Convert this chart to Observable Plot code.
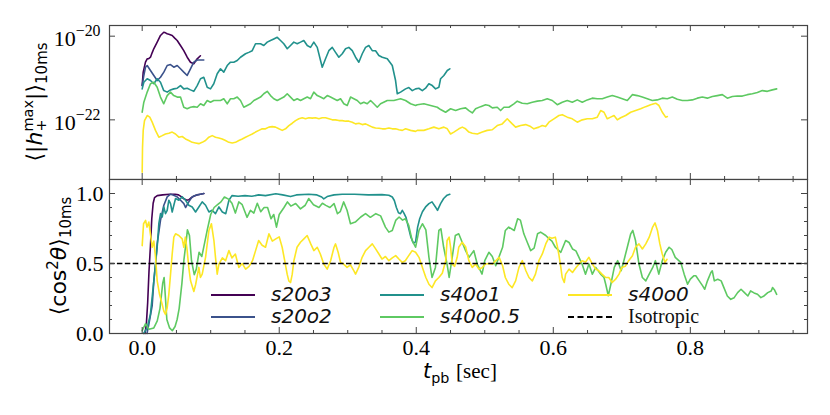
<!DOCTYPE html>
<html><head><meta charset="utf-8">
<script src="https://cdn.jsdelivr.net/npm/d3@7"></script>
<script src="https://cdn.jsdelivr.net/npm/@observablehq/plot@0.6"></script>
<style>
body{margin:0;background:#fff;}
#wrap{position:relative;width:830px;height:415px;overflow:hidden;background:#fff;}
#top,#bot{position:absolute;left:0;}
#top{top:0px;} #bot{top:178px;}
.lab{position:absolute;white-space:nowrap;font-family:"DejaVu Sans";font-size:22px;color:#000;line-height:1;}
.rot{transform:translate(-50%,-50%) rotate(-90deg);}
.ss{display:inline-block;vertical-align:-0.3em;font-size:0.66em;line-height:0.9;text-align:left;}
.ss span{display:block;}
.sub{font-size:0.68em;vertical-align:-0.35em;}
.sup{font-size:0.68em;vertical-align:0.55em;}
.sw{position:absolute;height:0;width:44px;}
.lt{position:absolute;font-family:"DejaVu Sans";font-style:italic;font-size:20px;line-height:1;white-space:nowrap;color:#111;}
.ls{position:absolute;font-family:"Liberation Serif";font-size:20px;line-height:1;white-space:nowrap;color:#111;}
</style>
</head><body>
<div id="wrap">
  <div id="top"></div>
  <div id="bot"></div>
  <div class="lab rot" style="left:36px;top:102px;">⟨|<i>h</i><span class="ss"><span>max</span><span>+</span></span>|⟩<span class="sub">10ms</span></div>
  <div class="lab rot" style="left:60px;top:256px;">⟨cos<span class="sup">2</span><i>θ</i>⟩<span class="sub">10ms</span></div>
  <div class="lab" style="left:460px;top:364px;font-size:21px;line-height:0.72;transform:translateX(-50%);"><i>t</i><span class="sub">pb</span> <span style="font-family:'Liberation Serif'">[sec]</span></div>
  <div id="legend"></div>
</div>
<script>
// ---------- data ----------
const seriesNames = ["s20o3", "s20o2", "s40o1", "s40o0.5", "s40o0"];
const seriesColors = ["#440154", "#3b528b", "#21918c", "#5ec962", "#fde725"];
const isotropicValue = [0.5];
const xDomain = [-0.0477, 0.971];
const hDomain = [3.75e-24, 1.8e-20];
const cDomain = [0, 1.1];
const xMajor = [0, 0.2, 0.4, 0.6, 0.8];
const xMinor = [0.05,0.1,0.15,0.25,0.3,0.35,0.45,0.5,0.55,0.65,0.7,0.75,0.85,0.9,0.95];
const hMajor = [1e-20, 1e-22];
const cMajor = [0, 0.5, 1.0];
const cMinor = [0.1,0.2,0.3,0.4,0.6,0.7,0.8,0.9];

// top panel: <|h+max|>_10ms  [t (s), value]
const h_s20o3 = [[0,6.6e-22],[0.0015,1.38e-21],[0.0048,2.39e-21],[0.0073,2.88e-21],[0.0095,2.9e-21],[0.0121,3.14e-21],[0.0145,4.0e-21],[0.0169,5.0e-21],[0.0219,7.2e-21],[0.0267,1.04e-20],[0.0315,1.24e-20],[0.034,1.2e-20],[0.0365,1.14e-20],[0.040,1.1e-20],[0.0438,1.04e-20],[0.0475,9.0e-21],[0.0511,7.9e-21],[0.0559,6.0e-21],[0.0607,4.5e-21],[0.0657,3.14e-21],[0.0705,2.39e-21],[0.0753,2.19e-21],[0.0803,2.88e-21],[0.085,3.4e-21]];
const h_s20o2 = [[0,6.6e-22],[0.0024,1.15e-21],[0.0048,1.81e-21],[0.0073,1.99e-21],[0.0121,1.51e-21],[0.017,1.15e-21],[0.0219,8.7e-22],[0.0267,1.04e-21],[0.0316,1.38e-21],[0.0365,1.99e-21],[0.0413,2.1e-21],[0.0462,1.81e-21],[0.0511,1.99e-21],[0.0559,1.66e-21],[0.0607,1.38e-21],[0.0657,1.15e-21],[0.0705,1.66e-21],[0.0753,2.39e-21],[0.0803,2.7e-21],[0.0851,2.7e-21],[0.0899,2.7e-21]];
const h_s40o1 = [[0,5.5e-22],[0.0024,7.9e-22],[0.0073,9.6e-22],[0.0121,8.7e-22],[0.017,7.3e-22],[0.0219,9.6e-22],[0.0267,7.9e-22],[0.0315,5.0e-22],[0.0365,4.6e-22],[0.0413,5.2e-22],[0.0461,5.5e-22],[0.0511,5.7e-22],[0.0559,6.6e-22],[0.0607,5.5e-22],[0.0657,5.7e-22],[0.0705,5.2e-22],[0.0753,4.8e-22],[0.0803,6.6e-22],[0.0851,9.6e-22],[0.0899,1.04e-21],[0.0949,6.0e-22],[0.0997,5.5e-22],[0.1045,7.3e-22],[0.1095,1.26e-21],[0.1143,1.66e-21],[0.1191,1.38e-21],[0.1241,1.99e-21],[0.1289,2.39e-21],[0.1337,2.39e-21],[0.1387,2.62e-21],[0.1435,3.14e-21],[0.1508,3.8e-21],[0.1556,4.1e-21],[0.1606,4.5e-21],[0.1654,6.6e-21],[0.1727,6.6e-21],[0.1775,6.0e-21],[0.1825,7.2e-21],[0.1873,7.9e-21],[0.1921,8.6e-21],[0.1971,9.4e-21],[0.2019,7.9e-21],[0.2067,6.6e-21],[0.2117,5.0e-21],[0.2165,6.0e-21],[0.2213,7.2e-21],[0.2263,6.6e-21],[0.2311,7.2e-21],[0.2359,7.9e-21],[0.2409,6.0e-21],[0.2457,5.4e-21],[0.2505,7.2e-21],[0.2555,5.4e-21],[0.2603,2.62e-21],[0.2628,1.81e-21],[0.2676,2.88e-21],[0.2724,4.5e-21],[0.2774,5.4e-21],[0.2822,4.1e-21],[0.287,3.14e-21],[0.292,3.8e-21],[0.2968,5.0e-21],[0.3016,5.4e-21],[0.3066,4.5e-21],[0.3114,3.14e-21],[0.3162,2.39e-21],[0.3212,3.8e-21],[0.326,5.4e-21],[0.3308,6.0e-21],[0.3358,4.5e-21],[0.3406,4.5e-21],[0.3454,3.45e-21],[0.3504,3.14e-21],[0.3577,2.88e-21],[0.365,1.99e-21],[0.3698,8.7e-22],[0.3723,4.2e-22],[0.3771,4.6e-22],[0.3844,5.5e-22],[0.3892,5.9e-22],[0.3942,5.0e-22],[0.399,5.5e-22],[0.4038,5.7e-22],[0.4088,5.0e-22],[0.4136,5.7e-22],[0.4184,7.3e-22],[0.4234,6.6e-22],[0.4282,5.5e-22],[0.433,6.0e-22],[0.4355,9.6e-22],[0.4403,1.15e-21],[0.4453,1.51e-21],[0.449,1.66e-21]];
const h_s40o05 = [[0,1.52e-22],[0.0024,2.64e-22],[0.0073,4.6e-22],[0.0121,7.3e-22],[0.017,7.9e-22],[0.0219,6.0e-22],[0.0267,3.5e-22],[0.0315,2.42e-22],[0.0365,3.8e-22],[0.0413,4.6e-22],[0.0461,3.8e-22],[0.0511,3.5e-22],[0.0559,3.5e-22],[0.0607,2.0e-22],[0.0657,1.84e-22],[0.0705,2.0e-22],[0.0753,2.07e-22],[0.0803,2.0e-22],[0.0851,2.42e-22],[0.0899,2.2e-22],[0.0949,2.9e-22],[0.0997,2.64e-22],[0.1045,2.9e-22],[0.1095,2.9e-22],[0.1143,2.9e-22],[0.1191,3.2e-22],[0.1241,2.42e-22],[0.1289,3.2e-22],[0.1337,3.2e-22],[0.1387,3.5e-22],[0.1435,2.9e-22],[0.1483,2.0e-22],[0.1533,2.2e-22],[0.1581,2.42e-22],[0.163,2.9e-22],[0.168,3.2e-22],[0.1727,3.5e-22],[0.1775,4.2e-22],[0.1825,4.8e-22],[0.1873,3.8e-22],[0.1921,3.2e-22],[0.1971,2.9e-22],[0.2019,3.2e-22],[0.2067,3.5e-22],[0.2117,4.2e-22],[0.2165,3.5e-22],[0.2213,2.9e-22],[0.2263,3.2e-22],[0.2311,2.9e-22],[0.2359,3.2e-22],[0.2409,3.5e-22],[0.2457,3.2e-22],[0.2505,4.6e-22],[0.2555,3.8e-22],[0.2603,3.5e-22],[0.2651,3.2e-22],[0.2701,3.8e-22],[0.2749,3.5e-22],[0.2797,3.2e-22],[0.2847,2.9e-22],[0.2895,3.2e-22],[0.2943,2.42e-22],[0.2993,2.2e-22],[0.3041,3.5e-22],[0.3089,3.2e-22],[0.3139,2.9e-22],[0.3187,2.42e-22],[0.3235,2.64e-22],[0.3285,2.42e-22],[0.3333,2.9e-22],[0.3381,2.42e-22],[0.3431,2.0e-22],[0.3479,2.42e-22],[0.3577,2.9e-22],[0.3673,2.9e-22],[0.3771,3.2e-22],[0.3844,2.9e-22],[0.3917,2.42e-22],[0.399,2.2e-22],[0.4015,2.3e-22],[0.4111,2.42e-22],[0.4209,2.2e-22],[0.4307,2.0e-22],[0.4355,1.76e-22],[0.4428,1.52e-22],[0.4501,1.84e-22],[0.4574,1.67e-22],[0.4647,1.84e-22],[0.472,1.93e-22],[0.4768,1.67e-22],[0.4818,1.46e-22],[0.4866,1.84e-22],[0.4939,2.07e-22],[0.5012,2.3e-22],[0.506,2.2e-22],[0.511,1.93e-22],[0.5182,2.0e-22],[0.5231,1.67e-22],[0.5279,2.0e-22],[0.5352,2.0e-22],[0.5425,2.42e-22],[0.5474,2.8e-22],[0.5547,2.5e-22],[0.562,2.42e-22],[0.5693,2.64e-22],[0.5766,2.8e-22],[0.5839,2.9e-22],[0.5912,3.2e-22],[0.5985,2.9e-22],[0.6058,2.3e-22],[0.6131,2.64e-22],[0.6204,2.9e-22],[0.6277,2.64e-22],[0.635,3.0e-22],[0.6423,2.64e-22],[0.6496,3.0e-22],[0.6569,3.3e-22],[0.6642,3.2e-22],[0.6715,3.2e-22],[0.6788,3.5e-22],[0.6861,3.8e-22],[0.6934,3.5e-22],[0.7007,3.2e-22],[0.708,2.9e-22],[0.7153,4.0e-22],[0.7226,3.8e-22],[0.7299,3.5e-22],[0.7372,3.2e-22],[0.7445,2.9e-22],[0.7518,3.0e-22],[0.7591,3.3e-22],[0.7664,3.2e-22],[0.7737,3.5e-22],[0.781,3.1e-22],[0.7883,2.9e-22],[0.7956,2.9e-22],[0.8029,3.0e-22],[0.8102,3.3e-22],[0.8175,3.5e-22],[0.8248,3.3e-22],[0.8321,3.6e-22],[0.8394,3.8e-22],[0.8467,4.0e-22],[0.854,3.3e-22],[0.8613,3.6e-22],[0.8686,3.7e-22],[0.8759,3.7e-22],[0.8832,4.0e-22],[0.8905,4.2e-22],[0.8978,4.5e-22],[0.9051,5.0e-22],[0.9124,4.8e-22],[0.9197,5.2e-22],[0.926,5.5e-22]];
const h_s40o0 = [[0,5.6e-24],[0.0005,2.2e-23],[0.0015,5.6e-23],[0.0034,9.6e-23],[0.0073,1.27e-22],[0.0111,1.16e-22],[0.0146,8.8e-23],[0.0194,5.6e-23],[0.0243,3.85e-23],[0.0292,4.2e-23],[0.034,4.6e-23],[0.0389,4.8e-23],[0.0438,5.1e-23],[0.0486,4.6e-23],[0.0535,3.85e-23],[0.0584,4.0e-23],[0.0632,3.5e-23],[0.068,3.2e-23],[0.073,2.9e-23],[0.0778,2.8e-23],[0.0827,2.7e-23],[0.0876,2.9e-23],[0.0924,3.2e-23],[0.0973,3.85e-23],[0.1022,4.2e-23],[0.107,3.85e-23],[0.1119,3.7e-23],[0.1168,3.5e-23],[0.1216,3.2e-23],[0.1265,2.9e-23],[0.1314,2.8e-23],[0.1362,2.9e-23],[0.1411,3.2e-23],[0.146,3.5e-23],[0.1508,3.85e-23],[0.1557,4.2e-23],[0.1606,4.6e-23],[0.1654,5.1e-23],[0.1703,5.6e-23],[0.1752,6.1e-23],[0.18,6.1e-23],[0.1849,6.7e-23],[0.1898,6.9e-23],[0.1946,6.7e-23],[0.1995,6.1e-23],[0.2044,5.6e-23],[0.2092,6.1e-23],[0.2141,7.3e-23],[0.219,8.3e-23],[0.2238,9.6e-23],[0.2287,1.06e-22],[0.2336,1.12e-22],[0.2384,1.06e-22],[0.2433,1.12e-22],[0.2482,1.1e-22],[0.253,1.12e-22],[0.2579,1.06e-22],[0.2628,1.12e-22],[0.2676,1.12e-22],[0.2725,1.06e-22],[0.2774,1.0e-22],[0.2822,1.0e-22],[0.2871,9.6e-23],[0.292,9.6e-23],[0.2968,9.3e-23],[0.3017,9.3e-23],[0.3066,8.8e-23],[0.3114,8.0e-23],[0.3163,8.3e-23],[0.3212,7.7e-23],[0.326,8.0e-23],[0.3309,7.3e-23],[0.3358,6.7e-23],[0.3406,6.4e-23],[0.3455,6.3e-23],[0.3504,6.1e-23],[0.3552,6.1e-23],[0.3601,6.4e-23],[0.365,6.1e-23],[0.3698,6.1e-23],[0.3747,5.8e-23],[0.3796,5.6e-23],[0.3844,6.1e-23],[0.3917,5.6e-23],[0.399,5.3e-23],[0.4015,5.6e-23],[0.4111,5.6e-23],[0.4184,6.1e-23],[0.4257,6.7e-23],[0.433,6.1e-23],[0.4403,6.7e-23],[0.4453,6.1e-23],[0.4501,4.6e-23],[0.4549,5.1e-23],[0.4622,6.1e-23],[0.4672,6.7e-23],[0.472,6.1e-23],[0.4768,5.1e-23],[0.4818,4.8e-23],[0.4891,4.6e-23],[0.4964,5.1e-23],[0.5036,5.6e-23],[0.5109,5.8e-23],[0.5182,7.3e-23],[0.5255,8.0e-23],[0.5328,1.06e-22],[0.5401,8.0e-23],[0.545,6.7e-23],[0.5523,7.3e-23],[0.5596,7.7e-23],[0.5669,6.9e-23],[0.5717,6.1e-23],[0.579,6.7e-23],[0.5839,7.3e-23],[0.5888,6.9e-23],[0.5936,8.8e-23],[0.6009,1.06e-22],[0.6082,1.27e-22],[0.6131,1.33e-22],[0.6204,1.16e-22],[0.6277,1.06e-22],[0.635,8.8e-23],[0.6423,1.0e-22],[0.6496,1.06e-22],[0.6569,1.06e-22],[0.6642,1.16e-22],[0.6691,1.67e-22],[0.674,1.52e-22],[0.6788,1.06e-22],[0.6837,1.16e-22],[0.6886,1.27e-22],[0.6934,1.0e-22],[0.6983,1.12e-22],[0.7056,1.27e-22],[0.7129,1.52e-22],[0.7202,1.67e-22],[0.7275,1.84e-22],[0.7348,2.07e-22],[0.7421,2.3e-22],[0.7494,2.5e-22],[0.7542,2.2e-22],[0.7591,1.52e-22],[0.764,1.16e-22],[0.7664,1.2e-22]];

// bottom panel: <cos^2 theta>_10ms  [t (s), value]
const c_s20o3 = [[0.004,0],[0.006,0.06],[0.008,0.22],[0.010,0.45],[0.012,0.62],[0.014,0.82],[0.016,0.93],[0.018,0.97],[0.022,0.985],[0.03,0.99],[0.04,0.995],[0.048,0.995],[0.053,0.99],[0.057,0.978],[0.061,0.962],[0.065,0.952],[0.068,0.955],[0.071,0.968],[0.075,0.98],[0.08,0.99],[0.085,0.995],[0.09,1.0]];
const c_s20o2 = [[0.007,0],[0.0097,0.065],[0.0146,0.2],[0.017,0.376],[0.0195,0.5],[0.0219,0.64],[0.0267,0.808],[0.0316,0.916],[0.0365,0.976],[0.0414,0.995],[0.046,0.988],[0.051,0.976],[0.056,0.952],[0.0608,0.928],[0.0633,0.9],[0.068,0.94],[0.073,0.976],[0.078,0.988],[0.085,0.995],[0.09,1.0]];
const c_s40o1 = [[0.002,0],[0.0073,0.04],[0.012,0.136],[0.017,0.376],[0.0219,0.616],[0.0243,0.784],[0.0268,0.856],[0.0292,0.832],[0.0316,0.904],[0.034,0.856],[0.0365,0.88],[0.0389,0.952],[0.0414,0.928],[0.0438,0.868],[0.0462,0.916],[0.0487,0.964],[0.0535,0.952],[0.0584,0.976],[0.0633,0.952],[0.068,0.916],[0.073,0.904],[0.0779,0.868],[0.0827,0.904],[0.0876,0.94],[0.0925,0.916],[0.0974,0.868],[0.102,0.88],[0.107,0.856],[0.112,0.904],[0.117,0.868],[0.122,0.856],[0.1266,0.952],[0.131,0.985],[0.14,0.98],[0.15,0.985],[0.16,0.98],[0.17,0.99],[0.18,0.985],[0.195,0.998],[0.205,0.99],[0.2165,0.978],[0.225,0.99],[0.243,0.995],[0.255,0.99],[0.262,0.975],[0.265,0.962],[0.27,0.978],[0.28,0.99],[0.292,0.995],[0.31,0.995],[0.33,0.99],[0.35,0.992],[0.36,0.988],[0.365,0.975],[0.368,0.95],[0.371,0.9],[0.374,0.862],[0.377,0.856],[0.3796,0.88],[0.382,0.86],[0.385,0.83],[0.389,0.75],[0.392,0.69],[0.396,0.645],[0.399,0.655],[0.402,0.76],[0.405,0.82],[0.409,0.87],[0.4136,0.904],[0.4185,0.928],[0.423,0.94],[0.428,0.904],[0.431,0.88],[0.4355,0.928],[0.44,0.964],[0.445,0.988],[0.449,0.995]];
const c_s40o05 = [[0,0.02],[0.005,0.07],[0.01,0.03],[0.017,0.04],[0.022,0.09],[0.026,0.18],[0.03,0.36],[0.032,0.40],[0.034,0.25],[0.036,0.10],[0.04,0.04],[0.044,0.02],[0.048,0.05],[0.051,0.1],[0.054,0.18],[0.058,0.36],[0.061,0.53],[0.064,0.65],[0.066,0.74],[0.069,0.70],[0.072,0.52],[0.076,0.42],[0.079,0.46],[0.083,0.58],[0.087,0.55],[0.09,0.62],[0.095,0.74],[0.1,0.85],[0.105,0.9],[0.11,0.92],[0.115,0.94],[0.12,0.975],[0.126,0.96],[0.131,0.93],[0.136,0.86],[0.141,0.94],[0.146,0.92],[0.153,0.83],[0.158,0.88],[0.163,0.86],[0.168,0.93],[0.173,0.87],[0.178,0.90],[0.183,0.90],[0.188,0.82],[0.192,0.85],[0.196,0.76],[0.2,0.85],[0.207,0.90],[0.212,0.94],[0.217,0.91],[0.224,0.928],[0.231,0.89],[0.238,0.916],[0.243,0.964],[0.25,0.92],[0.258,0.90],[0.263,0.93],[0.268,0.915],[0.274,0.9],[0.28,0.928],[0.285,0.856],[0.289,0.87],[0.294,0.94],[0.299,0.88],[0.304,0.784],[0.311,0.796],[0.319,0.832],[0.326,0.856],[0.333,0.83],[0.341,0.856],[0.348,0.84],[0.355,0.76],[0.36,0.724],[0.365,0.735],[0.37,0.808],[0.375,0.832],[0.38,0.81],[0.384,0.82],[0.389,0.772],[0.394,0.664],[0.399,0.616],[0.404,0.736],[0.409,0.784],[0.414,0.74],[0.4185,0.544],[0.423,0.4],[0.428,0.472],[0.433,0.736],[0.436,0.748],[0.44,0.616],[0.445,0.496],[0.448,0.4],[0.4525,0.544],[0.457,0.7],[0.462,0.712],[0.467,0.652],[0.472,0.592],[0.477,0.544],[0.484,0.592],[0.489,0.496],[0.496,0.424],[0.5,0.52],[0.506,0.58],[0.511,0.55],[0.516,0.484],[0.521,0.55],[0.526,0.616],[0.53,0.736],[0.535,0.76],[0.543,0.736],[0.548,0.82],[0.552,0.81],[0.557,0.712],[0.562,0.652],[0.567,0.592],[0.572,0.61],[0.577,0.712],[0.5815,0.724],[0.589,0.7],[0.594,0.676],[0.598,0.66],[0.603,0.616],[0.611,0.58],[0.618,0.664],[0.623,0.65],[0.628,0.604],[0.633,0.59],[0.6375,0.544],[0.642,0.496],[0.647,0.424],[0.652,0.496],[0.657,0.424],[0.662,0.472],[0.669,0.424],[0.674,0.4],[0.6765,0.352],[0.6803,0.27],[0.684,0.352],[0.689,0.472],[0.694,0.52],[0.699,0.448],[0.703,0.52],[0.708,0.616],[0.713,0.712],[0.716,0.736],[0.72,0.664],[0.725,0.496],[0.73,0.4],[0.735,0.376],[0.74,0.424],[0.745,0.47],[0.749,0.52],[0.754,0.424],[0.759,0.52],[0.764,0.58],[0.769,0.616],[0.773,0.6],[0.778,0.544],[0.786,0.508],[0.791,0.424],[0.796,0.352],[0.8,0.388],[0.805,0.412],[0.808,0.412],[0.813,0.376],[0.818,0.34],[0.821,0.316],[0.825,0.376],[0.83,0.436],[0.832,0.448],[0.835,0.376],[0.84,0.388],[0.845,0.376],[0.849,0.328],[0.854,0.268],[0.859,0.244],[0.864,0.256],[0.869,0.292],[0.874,0.316],[0.879,0.292],[0.884,0.268],[0.888,0.304],[0.893,0.29],[0.898,0.28],[0.903,0.256],[0.908,0.27],[0.913,0.292],[0.918,0.304],[0.92,0.328],[0.923,0.31],[0.926,0.28]];
const c_s40o0 = [[0,0.628],[0.002,0.784],[0.005,0.808],[0.007,0.76],[0.0097,0.796],[0.012,0.712],[0.0146,0.616],[0.017,0.66],[0.0195,0.544],[0.0219,0.376],[0.0253,0.28],[0.0292,0.208],[0.0316,0.16],[0.034,0.136],[0.0365,0.184],[0.0389,0.28],[0.0414,0.424],[0.0438,0.568],[0.0462,0.688],[0.0487,0.712],[0.0535,0.70],[0.0584,0.676],[0.0608,0.616],[0.063,0.688],[0.0655,0.60],[0.068,0.472],[0.0706,0.376],[0.0754,0.30],[0.078,0.35],[0.0827,0.472],[0.085,0.40],[0.0876,0.424],[0.0925,0.544],[0.0974,0.736],[0.101,0.784],[0.1047,0.664],[0.107,0.544],[0.1095,0.424],[0.112,0.496],[0.117,0.54],[0.1217,0.52],[0.1266,0.592],[0.131,0.54],[0.136,0.568],[0.141,0.472],[0.146,0.50],[0.151,0.46],[0.156,0.48],[0.161,0.52],[0.1655,0.592],[0.17,0.664],[0.175,0.63],[0.18,0.616],[0.185,0.712],[0.19,0.66],[0.195,0.676],[0.2,0.69],[0.2043,0.616],[0.208,0.52],[0.2116,0.424],[0.214,0.376],[0.2165,0.364],[0.219,0.424],[0.2214,0.52],[0.226,0.616],[0.231,0.652],[0.236,0.676],[0.2408,0.7],[0.246,0.64],[0.2506,0.592],[0.2555,0.616],[0.26,0.568],[0.265,0.496],[0.27,0.46],[0.275,0.52],[0.28,0.616],[0.2822,0.64],[0.286,0.58],[0.2895,0.508],[0.294,0.496],[0.299,0.472],[0.304,0.49],[0.309,0.448],[0.3114,0.424],[0.316,0.472],[0.321,0.544],[0.326,0.592],[0.3309,0.616],[0.3358,0.64],[0.34,0.61],[0.3455,0.568],[0.35,0.532],[0.355,0.55],[0.36,0.52],[0.365,0.54],[0.37,0.556],[0.375,0.53],[0.3796,0.508],[0.384,0.52],[0.389,0.556],[0.394,0.592],[0.399,0.58],[0.404,0.544],[0.409,0.472],[0.414,0.4],[0.4185,0.352],[0.423,0.328],[0.428,0.376],[0.433,0.4],[0.438,0.43],[0.443,0.52],[0.445,0.664],[0.448,0.688],[0.45,0.62],[0.4525,0.496],[0.456,0.48],[0.4597,0.544],[0.462,0.616],[0.467,0.652],[0.472,0.62],[0.4768,0.52],[0.4817,0.472],[0.4866,0.496],[0.4914,0.46],[0.496,0.47],[0.501,0.496],[0.506,0.5],[0.511,0.496],[0.516,0.52],[0.521,0.544],[0.526,0.484],[0.53,0.4],[0.535,0.352],[0.54,0.328],[0.545,0.376],[0.5499,0.472],[0.5548,0.52],[0.56,0.448],[0.5645,0.4],[0.5694,0.376],[0.574,0.424],[0.579,0.52],[0.584,0.568],[0.589,0.64],[0.594,0.688],[0.598,0.68],[0.603,0.688],[0.606,0.62],[0.608,0.568],[0.611,0.472],[0.613,0.4],[0.616,0.364],[0.618,0.424],[0.623,0.46],[0.628,0.436],[0.633,0.47],[0.6375,0.496],[0.642,0.52],[0.647,0.51],[0.652,0.544],[0.657,0.496],[0.662,0.46],[0.666,0.45],[0.671,0.424],[0.6765,0.4],[0.681,0.4],[0.686,0.364],[0.691,0.388],[0.696,0.424],[0.7,0.472],[0.705,0.48],[0.71,0.52],[0.7155,0.556],[0.72,0.616],[0.725,0.64],[0.73,0.604],[0.735,0.64],[0.74,0.688],[0.745,0.76],[0.7485,0.79],[0.752,0.736],[0.7555,0.64],[0.759,0.568],[0.763,0.508],[0.766,0.53]];

const hSeries = [h_s20o3, h_s20o2, h_s40o1, h_s40o05, h_s40o0];
const cSeries = [c_s20o3, c_s20o2, c_s40o1, c_s40o05, c_s40o0];

// ---------- layout ----------
const W = 830, ML = 109, MR = 23;
const IW = W - ML - MR;
const IH = 154;
const tickColor = "#444";
const tickFont = 22;

function tickMarks(yMajor, yMinor) {
  const m = [];
  const tx = (arr, len) => [
    Plot.tickX(arr, {x: d => d, insetTop: IH - len, stroke: tickColor, strokeWidth: 1}),
    Plot.tickX(arr, {x: d => d, insetBottom: IH - len, stroke: tickColor, strokeWidth: 1})
  ];
  const ty = (arr, len) => [
    Plot.tickY(arr, {y: d => d, insetRight: IW - len, stroke: tickColor, strokeWidth: 1}),
    Plot.tickY(arr, {y: d => d, insetLeft: IW - len, stroke: tickColor, strokeWidth: 1})
  ];
  m.push(...tx(xMajor, 6), ...tx(xMinor, 3), ...ty(yMajor, 6));
  if (yMinor) m.push(...ty(yMinor, 3));
  return m;
}

const lineMarks = (list) => list.map((s, i) =>
  Plot.line(s, {x: d => d[0], y: d => d[1], stroke: seriesColors[i], strokeWidth: 1.6}));

const topPlot = Plot.plot({
  width: W, height: 180, marginLeft: ML, marginRight: MR, marginTop: 25, marginBottom: 1,
  style: {fontFamily: "Liberation Serif", fontSize: "20px", background: "transparent", color: "#000"},
  x: {domain: xDomain, axis: null},
  y: {type: "log", domain: hDomain},
  marks: [
    ...lineMarks(hSeries),
    ...tickMarks(hMajor, null),
    Plot.axisY({ticks: hMajor, tickSize: 0, tickPadding: 9, label: null, fontSize: tickFont,
      tickFormat: d => "10^" + String(Math.round(Math.log10(d))).replace("-", "−")}),
    Plot.frame({stroke: tickColor, strokeWidth: 1.2})
  ]
});
document.getElementById("top").appendChild(topPlot);
d3.select(topPlot).selectAll('[aria-label="y-axis tick label"] text').each(function() {
  const s = this.textContent;
  const i = s.indexOf("^");
  if (i < 0) return;
  const el = d3.select(this);
  el.text(null);
  el.append("tspan").attr("dy", "0.12em").text(s.slice(0, i));
  el.append("tspan").attr("dy", "-0.62em").attr("font-size", "0.72em").text(s.slice(i + 1));
});

const botPlot = Plot.plot({
  width: W, height: 237, marginLeft: ML, marginRight: MR, marginTop: 1, marginBottom: 82,
  style: {fontFamily: "Liberation Serif", fontSize: "20px", background: "transparent", color: "#000"},
  x: {domain: xDomain},
  y: {domain: cDomain},
  marks: [
    ...lineMarks(cSeries),
    Plot.ruleY(isotropicValue, {stroke: "black", strokeWidth: 1.5, strokeDasharray: "5.5,2.4"}),
    ...tickMarks(cMajor, cMinor),
    Plot.axisY({ticks: cMajor, tickSize: 0, tickPadding: 6, label: null, fontSize: tickFont, tickFormat: d3.format(".1f")}),
    Plot.axisX({ticks: xMajor, tickSize: 0, tickPadding: 6, label: null, fontSize: tickFont, tickFormat: d3.format(".1f")}),
    Plot.frame({stroke: tickColor, strokeWidth: 1.2})
  ]
});
document.getElementById("bot").appendChild(botPlot);

// ---------- legend ----------
const legendCols = [[211, 271], [380, 440], [568, 628]];
const legendRows = [[295, 284], [317, 306]];
const legendItems = [
  {name: seriesNames[0], color: seriesColors[0], col: 0, row: 0},
  {name: seriesNames[1], color: seriesColors[1], col: 0, row: 1},
  {name: seriesNames[2], color: seriesColors[2], col: 1, row: 0},
  {name: seriesNames[3], color: seriesColors[3], col: 1, row: 1},
  {name: seriesNames[4], color: seriesColors[4], col: 2, row: 0},
  {name: "Isotropic", color: "black", col: 2, row: 1, dashed: true}
];
const leg = document.getElementById("legend");
legendItems.forEach(it => {
  const [lx, tx] = legendCols[it.col];
  const [ly, ty] = legendRows[it.row];
  const sw = document.createElement("div");
  sw.className = "sw";
  sw.style.left = lx + "px";
  sw.style.top = (ly - 1) + "px";
  sw.style.borderTop = it.dashed ? "2px dashed black" : `2px solid ${it.color}`;
  leg.appendChild(sw);
  const t = document.createElement("div");
  t.className = it.dashed ? "ls" : "lt";
  t.style.left = tx + "px";
  t.style.top = ty + "px";
  t.textContent = it.name;
  leg.appendChild(t);
});
</script>
</body></html>
